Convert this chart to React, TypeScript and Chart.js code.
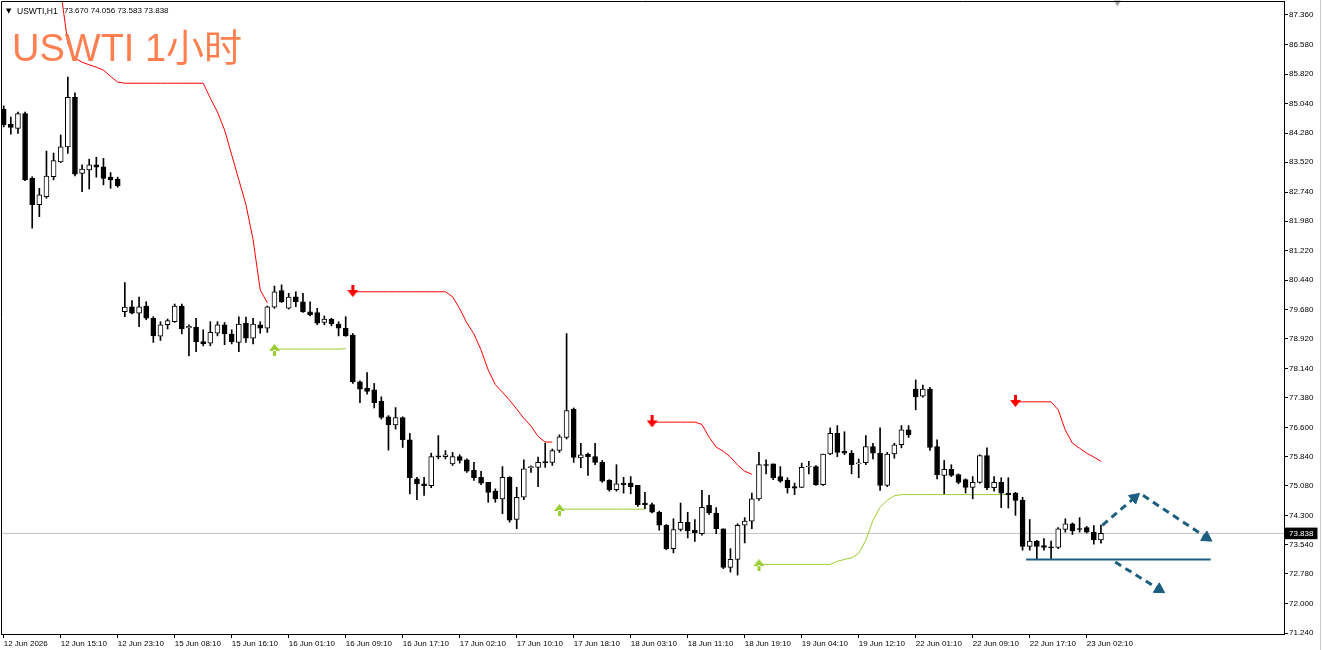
import { useEffect, useRef } from 'react';
import { Chart, registerables } from 'chart.js';

Chart.register(...registerables);

// ---------- data ----------
const opens = [
  84.90, 84.51, 84.40, 84.79, 83.10, 82.41, 82.62, 83.14, 83.53, 83.92,
  85.21, 83.23, 83.32, 83.45, 83.40, 83.13, 83.08, 79.62, 79.75, 79.58,
  79.77, 79.45, 78.98, 79.28, 79.36, 79.77, 79.20, 79.22, 78.84, 78.80,
  79.06, 79.28, 79.04, 78.82, 79.32, 78.93, 79.28, 79.19, 79.74, 80.17,
  79.71, 80.01, 79.88, 79.62, 79.60, 79.34, 79.43, 79.30, 79.19, 79.01,
  77.79, 77.63, 77.58, 77.28, 76.88, 76.67, 76.86, 76.28, 75.26, 75.13,
  75.08, 75.86, 75.84, 75.65, 75.84, 75.76, 75.48, 75.30, 75.17, 74.94,
  74.74, 75.30, 74.20, 74.78, 75.55, 75.56, 75.71, 75.69, 76.00, 76.34,
  77.08, 75.81, 75.91, 75.84, 75.69, 75.22, 74.98, 75.15, 75.15, 75.09,
  74.63, 74.59, 74.39, 74.05, 73.44, 73.94, 74.13, 73.92, 73.83, 74.57,
  74.37, 73.96, 72.95, 73.16, 74.05, 74.16, 74.74, 75.63, 75.65, 75.32,
  75.22, 75.06, 75.04, 75.57, 75.58, 75.11, 75.91, 76.45, 75.98, 75.93,
  75.65, 75.68, 76.10, 75.93, 75.09, 75.91, 76.15, 76.54, 77.60, 77.42,
  77.60, 76.10, 75.35, 75.51, 75.37, 75.24, 75.04, 75.17, 75.87, 75.03,
  75.17, 74.89, 74.89, 74.70, 73.50, 73.64, 73.52, 73.48, 73.47, 73.94,
  74.09, 73.96, 73.99, 73.87, 73.67,
];
const highs = [
  84.99, 84.70, 84.83, 84.83, 83.14, 82.84, 83.81, 83.76, 84.23, 85.74,
  85.33, 83.45, 83.60, 83.65, 83.62, 83.25, 83.13, 80.38, 79.91, 80.00,
  79.88, 79.49, 79.36, 79.43, 79.82, 79.82, 79.28, 79.45, 79.15, 79.36,
  79.36, 79.34, 79.15, 79.49, 79.48, 79.45, 79.36, 79.77, 80.29, 80.32,
  80.10, 80.14, 80.10, 79.88, 79.71, 79.51, 79.45, 79.36, 79.49, 79.05,
  77.82, 78.03, 77.75, 77.40, 76.91, 77.12, 76.88, 76.45, 75.30, 75.30,
  75.93, 76.39, 76.00, 75.95, 75.89, 75.78, 75.69, 75.46, 75.17, 75.00,
  75.58, 75.32, 75.04, 75.76, 75.60, 75.83, 76.19, 76.04, 76.41, 79.05,
  77.11, 76.19, 75.93, 76.19, 75.74, 75.24, 75.63, 75.30, 75.32, 75.09,
  74.91, 74.63, 74.42, 74.07, 74.22, 74.63, 74.39, 74.20, 74.96, 74.83,
  74.51, 73.96, 73.44, 74.09, 74.25, 74.89, 75.95, 75.76, 75.65, 75.58,
  75.29, 75.15, 75.67, 75.72, 75.61, 75.91, 76.59, 76.65, 76.49, 76.00,
  75.78, 76.39, 76.19, 76.59, 75.95, 76.19, 76.65, 76.65, 77.84, 77.71,
  77.65, 76.28, 75.74, 75.63, 75.39, 75.26, 75.32, 75.89, 76.07, 75.32,
  75.29, 75.29, 74.91, 74.78, 74.20, 73.66, 73.70, 73.64, 73.99, 74.22,
  74.11, 74.25, 74.02, 74.04, 74.056,
];
const lows = [
  84.44, 84.25, 84.27, 83.04, 81.80, 82.10, 82.58, 83.06, 83.51, 83.75,
  83.16, 82.75, 82.82, 83.13, 82.93, 82.84, 82.87, 79.49, 79.56, 79.23,
  79.41, 78.82, 78.87, 79.17, 79.34, 79.04, 78.47, 78.58, 78.73, 78.73,
  78.99, 78.76, 78.78, 78.58, 78.82, 78.78, 79.06, 79.08, 79.71, 79.86,
  79.69, 79.75, 79.60, 79.51, 79.28, 79.28, 79.25, 78.99, 78.98, 77.75,
  77.25, 77.47, 77.11, 76.82, 76.01, 76.56, 76.08, 74.87, 74.72, 74.83,
  75.03, 75.78, 75.78, 75.61, 75.67, 75.43, 75.22, 75.11, 74.65, 74.65,
  74.35, 74.13, 73.96, 74.72, 75.43, 75.06, 75.56, 75.61, 75.95, 76.30,
  75.69, 75.55, 75.35, 75.63, 75.17, 74.94, 74.94, 74.89, 74.87, 74.54,
  74.48, 74.37, 73.92, 73.41, 73.33, 73.90, 73.72, 73.63, 73.79, 74.33,
  73.83, 72.92, 72.83, 72.75, 73.59, 73.96, 74.70, 75.39, 75.24, 75.17,
  74.89, 74.85, 75.03, 75.39, 75.09, 75.09, 75.89, 75.84, 75.89, 75.39,
  75.29, 75.63, 75.78, 74.96, 75.06, 75.80, 76.07, 76.34, 77.06, 77.39,
  76.00, 75.26, 74.87, 75.32, 75.13, 74.89, 74.74, 75.15, 74.98, 74.94,
  74.51, 74.50, 74.31, 73.40, 73.40, 73.16, 73.40, 73.18, 73.44, 73.87,
  73.81, 73.87, 73.85, 73.56, 73.583,
];
const closes = [
  84.49, 84.43, 84.79, 83.06, 82.41, 82.67, 83.16, 83.56, 83.92, 85.21,
  83.21, 83.34, 83.45, 83.39, 83.10, 83.06, 82.90, 79.74, 79.58, 79.75,
  79.45, 78.99, 79.28, 79.39, 79.77, 79.17, 79.24, 78.84, 78.78, 79.08,
  79.28, 79.04, 78.84, 79.30, 78.93, 79.30, 79.19, 79.75, 80.14, 79.88,
  80.00, 79.88, 79.62, 79.54, 79.32, 79.43, 79.30, 79.19, 78.99, 77.79,
  77.60, 77.54, 77.25, 76.86, 76.67, 76.86, 76.28, 75.29, 75.13, 75.08,
  75.84, 75.83, 75.89, 75.84, 75.74, 75.46, 75.29, 75.15, 74.91, 74.74,
  75.30, 74.18, 74.78, 75.52, 75.58, 75.69, 75.68, 76.00, 76.36, 77.04,
  75.82, 75.89, 75.84, 75.69, 75.20, 74.98, 75.13, 75.11, 75.06, 74.59,
  74.59, 74.39, 74.05, 73.44, 73.94, 74.13, 73.90, 73.85, 74.52, 74.37,
  73.96, 72.95, 73.16, 74.05, 74.16, 74.74, 75.63, 75.61, 75.29, 75.20,
  75.03, 75.02, 75.56, 75.58, 75.11, 75.91, 76.45, 75.95, 75.93, 75.63,
  75.67, 76.10, 75.93, 75.09, 75.91, 76.15, 76.54, 76.41, 77.40, 77.60,
  76.08, 75.37, 75.51, 75.35, 75.17, 75.04, 75.17, 75.87, 75.03, 75.17,
  74.89, 74.85, 74.70, 73.50, 73.64, 73.50, 73.47, 73.46, 73.96, 74.09,
  73.90, 73.94, 73.87, 73.67, 73.838,
];

// indicator lines: [bar index, price]
const redLine1: [number, number][] = [
  [8, 88.00], [9, 86.62], [10, 86.23], [11, 86.13], [12, 86.06], [13, 86.00], [14, 85.92], [15, 85.76],
  [16, 85.61], [17, 85.58], [18, 85.58], [19, 85.58], [20, 85.58], [21, 85.58], [22, 85.58], [23, 85.58],
  [24, 85.58], [25, 85.58], [26, 85.58], [27, 85.58], [28, 85.58], [29, 85.19], [30, 84.83], [31, 84.36],
  [32, 83.71], [33, 83.06], [34, 82.41], [35, 81.50], [36, 80.19], [37, 79.85],
];
const redLine2: [number, number][] = [
  [49, 80.14], [50, 80.14], [51, 80.14], [52, 80.14], [53, 80.14], [54, 80.14], [55, 80.14], [56, 80.14],
  [57, 80.14], [58, 80.14], [59, 80.14], [60, 80.14], [61, 80.14], [62, 80.14], [63, 80.01], [64, 79.70],
  [65, 79.33], [66, 79.04], [67, 78.62], [68, 78.10], [69, 77.72], [70, 77.52], [71, 77.31], [72, 77.08],
  [73, 76.84], [74, 76.64], [75, 76.37], [76, 76.22], [77, 76.22],
];
const redLine3: [number, number][] = [
  [91, 76.74], [92, 76.74], [93, 76.74], [94, 76.74], [95, 76.74], [96, 76.74], [97, 76.74], [98, 76.68],
  [99, 76.35], [100, 76.09], [101, 75.98], [102, 75.83], [103, 75.62], [104, 75.46], [105, 75.38],
];
const redLine4: [number, number][] = [
  [142, 77.27], [143, 77.27], [144, 77.27], [145, 77.27], [146, 77.27], [147, 77.27], [148, 77.06],
  [149, 76.53], [150, 76.19], [151, 76.06], [152, 75.93], [153, 75.83], [154, 75.72],
];
const greenLine1: [number, number][] = [
  [38, 78.645], [39, 78.645], [40, 78.645], [41, 78.645], [42, 78.645], [43, 78.645], [44, 78.645],
  [45, 78.645], [46, 78.645], [47, 78.645], [48, 78.66],
];
const greenLine2: [number, number][] = [
  [78, 74.47], [79, 74.47], [80, 74.47], [81, 74.47], [82, 74.47], [83, 74.47], [84, 74.47], [85, 74.47],
  [86, 74.47], [87, 74.47], [88, 74.47], [89, 74.47], [90, 74.47],
];
const greenLine3: [number, number][] = [
  [106, 73.03], [107, 73.03], [108, 73.03], [109, 73.03], [110, 73.03], [111, 73.03], [112, 73.03],
  [113, 73.03], [114, 73.03], [115, 73.03], [116, 73.03], [117, 73.11], [118, 73.16], [119, 73.20],
  [120, 73.32], [121, 73.66], [122, 74.18], [123, 74.52], [124, 74.70], [125, 74.82], [126, 74.85],
  [127, 74.85], [128, 74.85], [129, 74.85], [130, 74.85], [131, 74.85], [132, 74.85], [133, 74.85],
  [134, 74.85], [135, 74.85], [136, 74.85], [137, 74.85], [138, 74.85], [139, 74.85], [140, 74.85],
  [141, 74.85],
];
const redArrowBars = [49, 91, 142];
const redArrowPrices = [80.16, 76.76, 77.29];
const greenArrowBars = [38, 78, 106];
const greenArrowPrices = [78.625, 74.45, 73.01];

// drawn objects (bar index, price)
const supportLine: [number, number][] = [[143.5, 73.16], [169.4, 73.16]];
const arrowUp: [number, number][] = [[154.2, 74.05], [158.71, 74.77]];
const arrowDown1: [number, number][] = [[159.9, 74.83], [168.81, 73.73]];
const arrowDown2: [number, number][] = [[156.0, 73.09], [162.16, 72.38]];

const CURRENT = 73.838;
const shiftMarker: [number, number] = [156.3, 87.686];

const yTickValues = [
  87.36, 86.58, 85.82, 85.04, 84.28, 83.52, 82.74, 81.98, 81.22, 80.44, 79.68,
  78.92, 78.14, 77.38, 76.6, 75.84, 75.08, 74.3, 73.54, 72.78, 72.0, 71.24,
];
const xTickBars = [0, 8, 16, 24, 32, 40, 48, 56, 64, 72, 80, 88, 96, 104, 112, 120, 128, 136, 144, 152];
const xTickLabels = [
  '12 Jun 2026', '12 Jun 15:10', '12 Jun 23:10', '15 Jun 08:10', '15 Jun 16:10',
  '16 Jun 01:10', '16 Jun 09:10', '16 Jun 17:10', '17 Jun 02:10', '17 Jun 10:10',
  '17 Jun 18:10', '18 Jun 03:10', '18 Jun 11:10', '18 Jun 19:10', '19 Jun 04:10',
  '19 Jun 12:10', '22 Jun 01:10', '22 Jun 09:10', '22 Jun 17:10', '23 Jun 02:10',
];

const XMIN = -0.38;
const XMAX = 179.69;
const YMIN = 71.214;
const YMAX = 87.725;

const FONT = "'Liberation Sans', Arial, sans-serif";
const BLUE = '#1C5E80';

function makeArrow(color: string, down: boolean): HTMLCanvasElement {
  const c = document.createElement('canvas');
  c.width = 11;
  c.height = 12;
  const g = c.getContext('2d')!;
  g.fillStyle = color;
  g.beginPath();
  if (down) {
    g.rect(4, 0, 3, 6);
    g.moveTo(0, 5); g.lineTo(11, 5); g.lineTo(5.5, 12); g.closePath();
  } else {
    g.rect(4, 6, 3, 6);
    g.moveTo(0, 7); g.lineTo(11, 7); g.lineTo(5.5, 0); g.closePath();
  }
  g.fill();
  return c;
}

const toXY = (pts: [number, number][]) => pts.map(([x, y]) => ({ x, y }));

const framePlugin = {
  id: 'frame',
  afterDraw(chart: any) {
    const { ctx, chartArea: a } = chart;
    ctx.save();
    ctx.strokeStyle = '#000';
    ctx.lineWidth = 1;
    ctx.beginPath();
    ctx.moveTo(Math.floor(a.left) + 0.5, a.bottom);
    ctx.lineTo(Math.floor(a.left) + 0.5, Math.floor(a.top) + 0.5);
    ctx.lineTo(a.right, Math.floor(a.top) + 0.5);
    ctx.stroke();
    ctx.restore();
  },
};

export default function App() {
  const ref = useRef<HTMLCanvasElement>(null);

  useEffect(() => {
    const canvas = ref.current;
    if (!canvas) return;
    const redArrow = makeArrow('#FF0000', true);
    const greenArrow = makeArrow('#9ACD32', false);

    const bodyColors = opens.map((o, i) => (closes[i] >= o ? '#FFFFFF' : '#000000'));

    const lineSeg = (pts: [number, number][], color: string) => ({
      type: 'line' as const,
      data: toXY(pts),
      borderColor: color,
      borderWidth: 1,
      pointRadius: 0,
      fill: false,
      tension: 0,
      order: 5,
    });

    const rotation = (ctx: any) => {
      const i = ctx.dataIndex;
      if (!i) return 0;
      const d = ctx.dataset.data;
      const xs = ctx.chart.scales.x;
      const ys = ctx.chart.scales.y;
      const dx = xs.getPixelForValue(d[i].x) - xs.getPixelForValue(d[i - 1].x);
      const dy = ys.getPixelForValue(d[i].y) - ys.getPixelForValue(d[i - 1].y);
      return (Math.atan2(dx, -dy) * 180) / Math.PI;
    };

    const dashedArrow = (pts: [number, number][]) => ({
      type: 'line' as const,
      data: toXY(pts),
      borderColor: BLUE,
      borderWidth: 3,
      borderDash: [7, 5],
      pointRadius: [0, 6.5],
      pointStyle: 'triangle',
      pointRotation: rotation,
      pointBackgroundColor: BLUE,
      pointBorderColor: BLUE,
      pointBorderWidth: 1,
      fill: false,
      order: 2,
    });

    const datasets: any[] = [
      {
        type: 'line',
        data: [{ x: XMIN, y: CURRENT }, { x: XMAX, y: CURRENT }],
        borderColor: '#C0C0C0',
        borderWidth: 1,
        pointRadius: 0,
        order: 10,
      },
      lineSeg(redLine1, '#FF0000'),
      lineSeg(redLine2, '#FF0000'),
      lineSeg(redLine3, '#FF0000'),
      lineSeg(redLine4, '#FF0000'),
      lineSeg(greenLine1, '#9ACD32'),
      lineSeg(greenLine2, '#9ACD32'),
      lineSeg(greenLine3, '#9ACD32'),
      {
        type: 'bar',
        data: lows.map((l, i) => ({ x: i, y: [l, highs[i]] })),
        backgroundColor: '#000000',
        borderWidth: 0,
        barThickness: 1,
        grouped: false,
        order: 4,
      },
      {
        type: 'bar',
        data: opens.map((o, i) => ({ x: i, y: [o, closes[i]] })),
        backgroundColor: bodyColors,
        borderColor: '#000000',
        borderWidth: 1,
        borderSkipped: false,
        barThickness: 5,
        minBarLength: 1,
        grouped: false,
        order: 3,
      },
      {
        type: 'line',
        data: toXY(supportLine),
        borderColor: BLUE,
        borderWidth: 2,
        pointRadius: 0,
        order: 2,
      },
      dashedArrow(arrowUp),
      dashedArrow(arrowDown1),
      dashedArrow(arrowDown2),
      {
        type: 'line',
        data: redArrowBars.map((b, i) => ({ x: b, y: redArrowPrices[i] })),
        showLine: false,
        pointStyle: redArrow,
        pointRadius: 5,
        order: 1,
      },
      {
        type: 'line',
        data: greenArrowBars.map((b, i) => ({ x: b, y: greenArrowPrices[i] })),
        showLine: false,
        pointStyle: greenArrow,
        pointRadius: 5,
        order: 1,
      },
      {
        type: 'line',
        data: [{ x: shiftMarker[0], y: shiftMarker[1] }],
        showLine: false,
        pointStyle: 'triangle',
        pointRotation: 180,
        pointRadius: 4,
        pointBackgroundColor: '#A0A0A0',
        pointBorderColor: '#A0A0A0',
        pointBorderWidth: 0,
        clip: false,
        order: 0,
      },
    ];

    const chart = new Chart(canvas, {
      type: 'bar',
      data: { datasets },
      plugins: [framePlugin],
      options: {
        animation: false,
        responsive: false,
        maintainAspectRatio: false,
        events: [],
        layout: { autoPadding: false, padding: { left: 1, top: 1, right: 0, bottom: 0 } },
        plugins: {
          legend: { display: false },
          tooltip: { enabled: false },
          title: { display: false },
        },
        scales: {
          x: {
            type: 'linear',
            min: XMIN,
            max: XMAX,
            offset: false,
            position: 'bottom',
            grid: { drawOnChartArea: false, drawTicks: true, tickLength: 4, color: '#000', offset: false },
            border: { display: true, color: '#000', width: 1 },
            ticks: {
              autoSkip: false,
              maxRotation: 0,
              minRotation: 0,
              align: 'start',
              padding: 1,
              color: '#000',
              font: { family: FONT, size: 8 },
              callback: (v: any) => {
                const k = xTickBars.indexOf(Number(v));
                return k >= 0 ? xTickLabels[k] : '';
              },
            },
            afterBuildTicks: (s: any) => {
              s.ticks = xTickBars.map((v) => ({ value: v }));
            },
            afterFit: (s: any) => {
              s.height = 16;
              s.paddingLeft = 0;
              s.paddingRight = 0;
            },
          },
          y: {
            type: 'linear',
            position: 'right',
            min: YMIN,
            max: YMAX,
            beginAtZero: false,
            grid: { drawOnChartArea: false, drawTicks: true, tickLength: 4, color: '#000' },
            border: { display: true, color: '#000', width: 1 },
            ticks: {
              autoSkip: false,
              padding: 1,
              font: { family: FONT, size: 8 },
              color: (c: any) => (c.tick && c.tick.value === CURRENT ? '#FFFFFF' : '#000000'),
              showLabelBackdrop: (c: any) => !!(c.tick && c.tick.value === CURRENT),
              backdropColor: '#000000',
              backdropPadding: { top: 1, bottom: 1, left: 4, right: 4 },
              callback: (v: any) => Number(v).toFixed(3),
            },
            afterBuildTicks: (s: any) => {
              s.ticks = [...yTickValues, CURRENT].sort((a, b) => a - b).map((v) => ({ value: v }));
            },
            afterFit: (s: any) => {
              s.width = 38;
              s.paddingTop = 0;
              s.paddingBottom = 0;
            },
          },
        },
      } as any,
    });

    return () => chart.destroy();
  }, []);

  return (
    <div
      style={{
        position: 'absolute',
        left: 0,
        top: 0,
        width: 1322,
        height: 650,
        background: '#FFFFFF',
        overflow: 'hidden',
      }}
    >
      <canvas
        ref={ref}
        width={1322}
        height={650}
        style={{ position: 'absolute', left: 0, top: 0, display: 'block' }}
      />
      <div style={{ position: 'absolute', left: 1320, top: 0, width: 1, height: 650, background: '#C8C8C8' }} />
      <span
        style={{
          position: 'absolute',
          left: 6,
          top: 7,
          fontFamily: "'DejaVu Sans', sans-serif",
          fontSize: 7,
          lineHeight: '8px',
          color: '#000',
        }}
      >
        ▼
      </span>
      <span
        style={{
          position: 'absolute',
          left: 17,
          top: 7,
          fontFamily: FONT,
          fontSize: 8.5,
          lineHeight: '8px',
          color: '#000',
          whiteSpace: 'pre',
        }}
      >
        USWTI,H1
      </span>
      <span
        style={{
          position: 'absolute',
          left: 64,
          top: 7,
          fontFamily: FONT,
          fontSize: 8,
          lineHeight: '8px',
          color: '#000',
          whiteSpace: 'pre',
        }}
      >
        73.670 74.056 73.583 73.838
      </span>
      <div
        style={{
          position: 'absolute',
          left: 12,
          top: 29,
          fontFamily: "'Liberation Sans', 'Noto Sans CJK SC', sans-serif",
          fontSize: 38,
          lineHeight: '39px',
          color: '#FF7F50',
          whiteSpace: 'pre',
        }}
      >
        USWTI 1小时
      </div>
    </div>
  );
}
